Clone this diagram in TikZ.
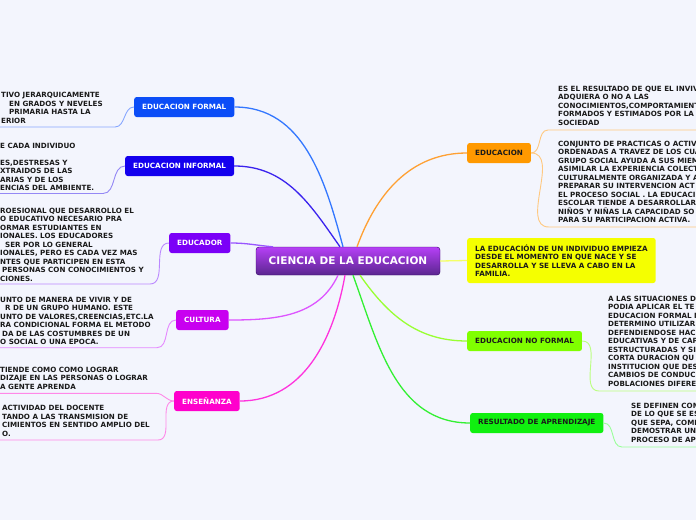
\documentclass[tikz,border=0pt]{standalone}
\usepackage{fontspec}
\setmainfont{DejaVu Sans}
\usepackage{tikz}
\usepackage{xcolor}
% colores del mapa
\definecolor{fondo}{HTML}{F3F5FD}
\definecolor{cformal}{HTML}{0B4DF7}
\definecolor{cinformal}{HTML}{1400EE}
\definecolor{ceducador}{HTML}{7B00F7}
\definecolor{ccultura}{HTML}{C800F0}
\definecolor{censena}{HTML}{FF00CC}
\definecolor{ceduca}{HTML}{FF9900}
\definecolor{camarillo}{HTML}{F5FF00}
\definecolor{cnoformal}{HTML}{80FF00}
\definecolor{cresultado}{HTML}{10F010}
\definecolor{lformal}{HTML}{3377FF}
\definecolor{linformal}{HTML}{3A22EE}
\definecolor{leducador}{HTML}{9955FF}
\definecolor{lcultura}{HTML}{DD55FF}
\definecolor{lensena}{HTML}{FF33DD}
\definecolor{leduca}{HTML}{FFA033}
\definecolor{lamarillo}{HTML}{F4FF66}
\definecolor{lnoformal}{HTML}{99FF33}
\definecolor{lresultado}{HTML}{33F033}
\definecolor{sformal}{HTML}{88A8FF}
\definecolor{sinformal}{HTML}{9488F5}
\definecolor{seducador}{HTML}{BB88FF}
\definecolor{scultura}{HTML}{E588FF}
\definecolor{sensena}{HTML}{FF88E8}
\definecolor{seduca}{HTML}{FFC880}
\definecolor{snoformal}{HTML}{BBFF80}
\definecolor{sresultado}{HTML}{99FF99}
\definecolor{tinta}{HTML}{1A1A1A}

\begin{document}
\begin{tikzpicture}[x=1pt,y=-1pt,
    rama/.style={rounded corners=2.5pt,minimum height=20pt,inner xsep=8pt,inner ysep=0pt,
      font=\fontsize{7.2}{8.5}\selectfont\bfseries,text=white,anchor=west},
    texto/.style={align=left,inner sep=0pt,anchor=north west,
      font=\fontsize{7.15}{8.5}\selectfont\bfseries,text=tinta},
    principal/.style={line width=1.3pt},
    sub/.style={line width=0.9pt}]
  \useasboundingbox (0,0) rectangle (696,520);
  \clip (0,0) rectangle (696,520);
  \fill[fondo] (0,0) rectangle (696,520);

  % nodo central
  \node[rounded corners=3pt,minimum width=184pt,minimum height=28pt,draw=ceducador!40!black,
    top color=ccultura!45!ceducador!75,middle color=ceducador!55!black!90,bottom color=ceducador!50!black!85,
    text=white,font=\fontsize{10.5}{12}\selectfont\bfseries] (ciencia) at (348,261) {CIENCIA DE LA EDUCACION};

  % ramas de la izquierda
  \node[rama,fill=cformal] (formal) at (134,107) {EDUCACION FORMAL};
  \node[rama,fill=cinformal] (informal) at (125,166) {EDUCACION INFORMAL};
  \node[rama,fill=ceducador] (educador) at (169,243) {EDUCADOR};
  \node[rama,fill=ccultura] (cultura) at (176,320) {CULTURA};
  \node[rama,fill=censena] (ensenanza) at (174,401) {ENSEÑANZA};

  % ramas de la derecha
  \node[rama,fill=ceduca,text=tinta] (educacion) at (467,153) {EDUCACION};
  \node[rama,fill=camarillo,text=tinta,align=left,minimum height=45pt,inner xsep=8pt] (familia) at (467,260.5)
    {LA EDUCACIÓN DE UN INDIVIDUO EMPIEZA\\DESDE EL MOMENTO EN QUE NACE Y SE\\DESARROLLA Y SE LLEVA A CABO EN LA\\FAMILIA.};
  \node[rama,fill=cnoformal,text=tinta] (noformal) at (467,341) {EDUCACION NO FORMAL};
  \node[rama,fill=cresultado,text=tinta] (resultado) at (470,423) {RESULTADO DE APRENDIZAJE};

  % textos
  \node[texto] (tformal) at (1,92.2) {TIVO JERARQUICAMENTE\\\hspace*{8pt}EN GRADOS Y NEVELES\\\hspace*{8pt}PRIMARIA HASTA LA\\ERIOR};
  \node[texto] (tinformal) at (0,142.5) {E CADA INDIVIDUO\\ \\ES,DESTRESAS Y\\XTRAIDOS DE LAS\\ARIAS Y DE LOS\\ENCIAS DEL AMBIENTE.};
  \node[texto] (teducador) at (0,207.5) {ROESIONAL QUE DESARROLLO EL\\O EDUCATIVO NECESARIO PRA\\ORMAR ESTUDIANTES EN\\IONALES. LOS EDUCADORES\\\hspace*{5pt}SER POR LO GENERAL\\IONALES, PERO ES CADA VEZ MAS\\NTES QUE PARTICIPEN EN ESTA\\\hspace*{2pt}PERSONAS CON CONOCIMIENTOS Y\\CIONES.};
  \node[texto] (tcultura) at (0,296.5) {UNTO DE MANERA DE VIVIR Y DE\\\hspace*{5pt}R DE UN GRUPO HUMANO. ESTE\\UNTO DE VALORES,CREENCIAS,ETC.LA\\RA CONDICIONAL FORMA EL METODO\\\hspace*{2pt}DA DE LAS COSTUMBRES DE UN\\O SOCIAL O UNA EPOCA.};
  \node[texto] (tensena) at (0,366.5) {TIENDE COMO COMO LOGRAR\\DIZAJE EN LAS PERSONAS O LOGRAR\\A GENTE APRENDA};
  \node[texto] (tdocente) at (2,405.2) {ACTIVIDAD DEL DOCENTE\\TANDO A LAS TRANSMISION DE\\CIMIENTOS EN SENTIDO AMPLIO DEL\\O.};
  \node[texto] (tresulta) at (558,85.5) {ES EL RESULTADO DE QUE EL INVIV\\ADQUIERA O NO A LAS\\CONOCIMIENTOS,COMPORTAMIENT\\FORMADOS Y ESTIMADOS POR LA\\SOCIEDAD};
  \node[texto] (tpracticas) at (558,140.5) {CONJUNTO DE PRACTICAS O ACTIV\\ORDENADAS A TRAVEZ DE LOS CUA\\GRUPO SOCIAL AYUDA A SUS MIEM\\ASIMILAR LA EXPERIENCIA COLECT\\CULTURALMENTE ORGANIZADA Y A\\PREPARAR SU INTERVENCION ACT\\EL PROCESO SOCIAL . LA EDUCACI\\ESCOLAR TIENDE A DESARROLLAR\\NIÑOS Y NIÑAS LA CAPACIDAD SO\\PARA SU PARTICIPACION ACTIVA.};
  \node[texto] (tsituacion) at (608,295.5) {A LAS SITUACIONES D\\PODIA APLICAR EL TE\\EDUCACION FORMAL N\\DETERMINO UTILIZAR\\DEFENDIENDOSE HAC\\EDUCATIVAS Y DE CAP\\ESTRUCTURADAS Y SI\\CORTA DURACION QU\\INSTITUCION QUE DES\\CAMBIOS DE CONDUC\\POBLACIONES DIFERE};
  \node[texto] (tdefinen) at (631,402.5) {SE DEFINEN COM\\DE LO QUE SE ES\\QUE SEPA, COMP\\DEMOSTRAR UNA\\PROCESO DE AP};

  % puntos de los subrayados
  \coordinate (cformal) at (115,127);    \coordinate (bformal) at (-5,127);
  \coordinate (cinformal) at (103,193.5); \coordinate (binformal) at (-5,193.5);
  \coordinate (ceducador) at (150,284);  \coordinate (beducador) at (-5,284);
  \coordinate (ccultura) at (157,347.7); \coordinate (bcultura) at (-5,347.7);
  \coordinate (censena) at (156,393.3);  \coordinate (bensena) at (-5,393.3);
  \coordinate (cdocente) at (158,440);   \coordinate (bdocente) at (-5,440);
  \coordinate (cresulta) at (548,130);   \coordinate (bresulta) at (700,130);
  \coordinate (cpracticas) at (549,227); \coordinate (bpracticas) at (700,227);
  \coordinate (csituacion) at (599,391); \coordinate (bsituacion) at (700,391);
  \coordinate (cdefinen) at (622,447);   \coordinate (bdefinen) at (700,447);

  % conexiones principales
  \draw[principal,lformal] (formal.east) to[out=0,in=105] ([xshift=-5pt]ciencia.north);
  \draw[principal,linformal] (informal.east) to[out=0,in=125] ([xshift=-8pt]ciencia.north);
  \draw[principal,leducador] (educador.east) to[out=0,in=175] ([xshift=-75pt]ciencia.north);
  \draw[principal,lcultura] (cultura.east) to[out=0,in=-115] ([xshift=-10pt]ciencia.south);
  \draw[principal,lensena] (ensenanza.east) to[out=0,in=-100] ([xshift=-3pt]ciencia.south);
  \draw[principal,leduca] ([xshift=9pt]ciencia.north) to[out=70,in=180] (educacion.west);
  \draw[principal,lamarillo] (ciencia.east) -- (familia.west);
  \draw[principal,lnoformal] ([xshift=12pt]ciencia.south) to[out=-55,in=180] (noformal.west);
  \draw[principal,lresultado] ([xshift=5pt]ciencia.south) to[out=-70,in=180] (resultado.west);

  % subramas
  \foreach \rama/\hijo/\col in {formal/formal/sformal, informal/informal/sinformal,
      educador/educador/seducador, cultura/cultura/scultura,
      ensenanza/ensena/sensena, ensenanza/docente/sensena}
    \draw[sub,\col] (\rama.west) to[out=180,in=0] (c\hijo) -- (b\hijo);
  \foreach \rama/\hijo/\col in {educacion/resulta/seduca, educacion/practicas/seduca,
      noformal/situacion/snoformal, resultado/definen/sresultado}
    \draw[sub,\col] (\rama.east) to[out=0,in=180] (c\hijo) -- (b\hijo);
\end{tikzpicture}
\end{document}
